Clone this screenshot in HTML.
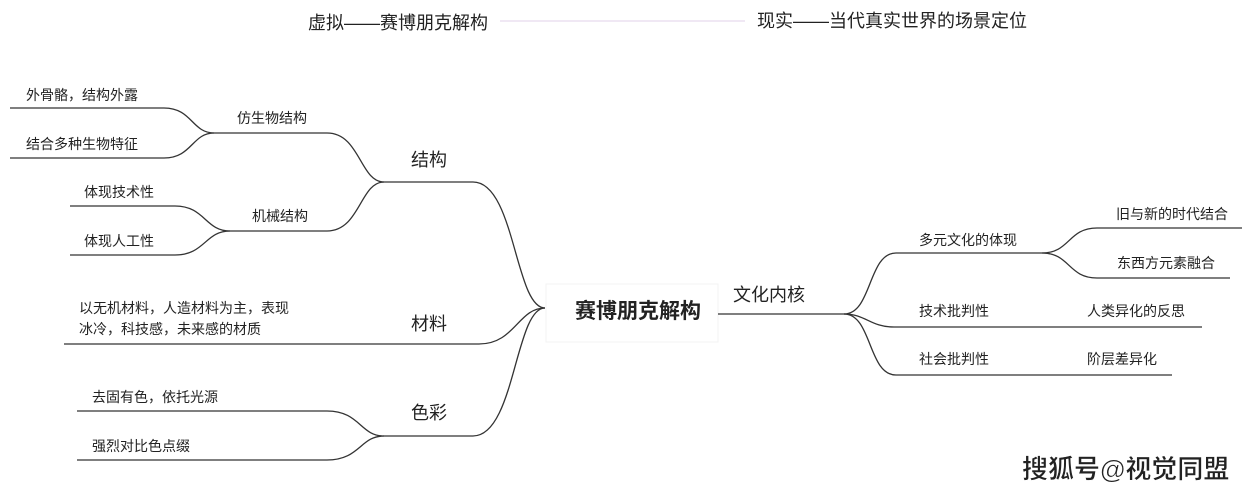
<!DOCTYPE html>
<html><head><meta charset="utf-8"><style>
html,body{margin:0;padding:0;background:#fff;}
svg{display:block;}
text{font-family:"Liberation Sans","Noto Sans CJK SC",sans-serif;fill:#222;}
</style></head><body>
<svg width="1258" height="499" viewBox="0 0 1258 499" xmlns="http://www.w3.org/2000/svg">
<g font-size="18">
<text x="308" y="29">虚拟——赛博朋克解构</text>
<text x="757" y="27">现实——当代真实世界的场景定位</text>
</g>
<line x1="500" y1="21" x2="745" y2="21" stroke="#e0d0ea" stroke-width="1"/>

<rect x="546" y="284" width="172" height="58" fill="#fff" stroke="#f3f3f3"/>
<text x="575" y="318" font-size="21" font-weight="bold" fill="#111">赛博朋克解构</text>

<g fill="none" stroke="#333" stroke-width="1.3">
<!-- left -->
<path d="M10 108 H164 C192 108 192 133 214 133 H327 C360 133 360 182 384 182 H473 C515 182 515 308 545 308"/>
<path d="M10 158 H164 C192 158 192 133 214 133"/>
<path d="M70 206 H175 C205 206 205 231 230 231 H327 C360 231 360 182 384 182"/>
<path d="M70 255 H175 C205 255 205 231 230 231"/>
<path d="M64 344 H479 C515 344 518 308 545 308"/>
<path d="M77 411 H327 C360 411 360 436 384 436 H473 C515 436 515 308 545 308"/>
<path d="M77 460 H327 C360 460 360 436 384 436"/>
<!-- right -->
<path d="M718 314 H844 C872 314 868 253 896 253 H1042 C1070 253 1068 228 1097 228 H1242"/>
<path d="M1042 253 C1070 253 1068 278 1097 278 H1230"/>
<path d="M844 314 C866 314 870 327 894 327 H1202"/>
<path d="M844 314 C872 314 868 375 896 375 H1172"/>
</g>

<g font-size="14">
<text x="26" y="100">外骨骼，结构外露</text>
<text x="26" y="149">结合多种生物特征</text>
<text x="237" y="123">仿生物结构</text>
<text x="84" y="197">体现技术性</text>
<text x="84" y="246">体现人工性</text>
<text x="252" y="221">机械结构</text>
<text x="79" y="313">以无机材料，人造材料为主，表现</text>
<text x="79" y="334">冰冷，科技感，未来感的材质</text>
<text x="92" y="402">去固有色，依托光源</text>
<text x="92" y="451">强烈对比色点缀</text>
<text x="919" y="245">多元文化的体现</text>
<text x="1116" y="219">旧与新的时代结合</text>
<text x="1117" y="268">东西方元素融合</text>
<text x="919" y="316">技术批判性</text>
<text x="1087" y="316">人类异化的反思</text>
<text x="919" y="364">社会批判性</text>
<text x="1087" y="364">阶层差异化</text>
</g>
<g font-size="18">
<text x="411" y="166">结构</text>
<text x="411" y="330">材料</text>
<text x="411" y="419">色彩</text>
<text x="733" y="301">文化内核</text>
</g>
<text x="1022" y="478" font-size="26" font-weight="bold" fill="#222" stroke="#fff" stroke-width="0.6">搜狐号@视觉同盟</text>
</svg>
</body></html>
